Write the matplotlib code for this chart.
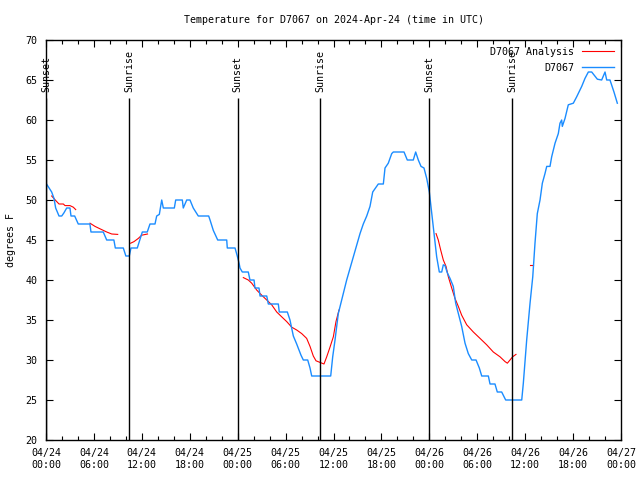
import matplotlib
matplotlib.use("Agg")
import matplotlib.pyplot as plt
import matplotlib.dates as mdates
import numpy as np
import pandas as pd

# hours since 2024-04-24 00:00 UTC, temperature in F
obs_hours = [0.0, 0.71, 1.0, 1.21, 1.63, 1.97, 2.25, 2.59, 3.0, 3.13, 3.59, 4.04,
             5.5, 5.63, 7.17, 7.6, 8.5, 8.68, 9.68, 10.0, 10.43, 10.64, 11.43,
             12.06, 12.68, 13.02, 13.65, 13.86, 14.19, 14.49, 14.69, 16.07, 16.24,
             17.07, 17.19, 17.62, 18.03, 18.44, 19.07, 20.37, 20.54, 20.95, 21.5,
             22.63, 22.70, 23.67, 23.95, 24.2, 24.29, 24.58, 25.33, 25.54, 26.05,
             26.17, 26.67, 26.8, 27.64, 27.84, 29.09, 29.21, 30.22, 30.55, 30.97,
             31.39, 31.93, 32.22, 32.77, 33.06, 33.27, 35.65, 35.9, 36.19, 36.6,
             37.03, 37.65, 38.48, 39.32, 39.73, 40.16, 40.57, 40.91, 41.61, 42.24,
             42.45, 42.86, 43.29, 43.49, 44.83, 45.24, 45.99, 46.29, 46.62, 46.96,
             47.33, 47.67, 48.0, 48.3, 48.59, 48.92, 49.25, 49.55, 49.75, 49.96,
             50.25, 50.59, 51.0, 51.3, 51.63, 52.05, 52.47, 52.88, 53.31, 53.85,
             54.26, 54.56, 55.39, 55.6, 56.22, 56.51, 57.06, 57.56, 59.57, 59.77,
             60.19, 60.61, 60.95, 61.23, 61.52, 61.86, 62.15, 62.48, 62.7, 63.11,
             63.32, 63.74, 64.15, 64.36, 64.57, 64.65, 64.99, 65.4, 66.03, 66.45,
             67.08, 67.49, 67.91, 68.33, 69.04, 69.58, 70.0, 70.21, 70.62, 71.12,
             71.54]
obs_temp = [52.1, 51.0, 50.2, 49.0, 48.0, 48.0, 48.4, 49.0, 49.0, 48.0, 48.0, 47.0,
            47.0, 46.0, 46.0, 45.0, 45.0, 44.0, 44.0, 43.0, 43.0, 44.0, 44.0,
            46.0, 46.0, 47.0, 47.0, 48.0, 48.2, 50.0, 49.0, 49.0, 50.0,
            50.0, 49.0, 50.0, 50.0, 49.0, 48.0, 48.0, 47.5, 46.2, 45.0,
            45.0, 44.0, 44.0, 43.0, 42.0, 41.5, 41.0, 41.0, 40.0, 40.0,
            39.0, 39.0, 38.0, 38.0, 37.0, 37.0, 36.0, 36.0, 35.0, 33.0,
            32.0, 30.6, 30.0, 30.0, 29.0, 28.0, 28.0, 30.4, 32.5, 35.8,
            37.5, 40.0, 42.9, 45.8, 47.0, 48.0, 49.2, 51.0, 52.0, 52.0,
            54.0, 54.6, 55.8, 56.0, 56.0, 55.0, 55.0, 56.0, 55.0, 54.2,
            54.0, 52.7, 51.0, 48.3, 45.8, 42.9, 41.0, 41.0, 41.9, 41.8,
            40.9, 40.2, 39.2, 37.1, 35.8, 34.2, 32.1, 30.8, 30.0, 30.0,
            29.0, 28.0, 28.0, 27.0, 27.0, 26.0, 26.0, 25.0, 25.0, 27.1,
            32.5, 37.1, 40.4, 44.6, 48.3, 50.0, 52.1, 53.3, 54.2, 54.2,
            55.4, 57.1, 58.3, 59.6, 60.0, 59.2, 60.2, 61.9, 62.1, 62.9,
            64.2, 65.2, 66.0, 66.0, 65.1, 65.0, 66.0, 65.0, 65.0, 63.5,
            62.1]

# analysis segments (gaps between them)
ana_hours = [
    [0.71, 1.25, 1.63, 2.17, 2.38, 3.0, 3.42, 3.72],
    [5.51, 6.14, 6.76, 7.6, 8.23, 8.98],
    [10.6, 11.02, 11.56, 11.98, 12.71],
    [24.71, 25.33, 25.76, 26.38, 27.01, 27.64, 28.26, 28.89, 29.51, 30.14,
     30.77, 31.39, 32.02, 32.64, 33.06, 33.47, 33.81, 34.31, 34.81, 35.15,
     35.56, 35.98, 36.31, 36.69],
    [48.84, 49.12, 49.42, 49.75, 50.09, 50.38, 50.8, 51.21, 51.63, 52.05,
     52.68, 53.51, 54.35, 55.18, 56.01, 56.85, 57.48, 57.77, 58.1, 58.43, 58.85],
    [60.61, 60.95],
]
ana_temp = [
    [50.5, 49.9, 49.5, 49.5, 49.3, 49.3, 49.1, 48.8],
    [47.1, 46.7, 46.4, 46.0, 45.75, 45.7],
    [44.6, 44.8, 45.2, 45.6, 45.75],
    [40.3, 40.0, 39.6, 38.75, 38.1, 37.5, 36.9, 36.0, 35.4, 34.8,
     34.1, 33.75, 33.3, 32.7, 31.7, 30.5, 29.9, 29.7, 29.5, 30.4,
     31.6, 32.9, 34.8, 36.25],
    [45.8, 45.0, 43.75, 42.5, 41.7, 40.4, 39.0, 37.7, 36.7, 35.6,
     34.4, 33.5, 32.7, 31.9, 31.0, 30.4, 29.8, 29.6, 30.0, 30.4, 30.7],
    [41.9, 41.9],
]

sun_hours = [0.0, 10.4, 24.02, 34.31, 47.98, 58.35]
sun_labels = ["Sunset", "Sunrise", "Sunset", "Sunrise", "Sunset", "Sunrise"]

base = pd.Timestamp("2024-04-24 00:00")
def to_time(h):
    return base + pd.to_timedelta(np.array(h), unit="h")

fs = 7.2
plt.rcParams['font.family'] = "DejaVu Sans Mono"
plt.rcParams['font.size'] = fs

fig = plt.figure(figsize=(6.4, 4.8), dpi=100)
ax = fig.add_axes([46/640, 40/480, 575/640, 400/480])

red = "#ff0000"
blue = "#1a8cff"

for i, (h, t) in enumerate(zip(ana_hours, ana_temp)):
    ax.plot(to_time(h), t, color=red, lw=0.8,
            label="D7067 Analysis" if i == 0 else None)
ax.plot(to_time(obs_hours), obs_temp, color=blue, lw=1.0, label="D7067")

for h, lab in zip(sun_hours, sun_labels):
    t = to_time([h])[0]
    ax.vlines(t, 20, 62.75, color="black", lw=1.0)
    ax.text(t, 63.5, lab, rotation=90, ha="center", va="bottom", fontsize=fs)

ax.set_xlim(base, base + pd.Timedelta(hours=72))
ax.set_ylim(20, 70)
ax.set_yticks(np.arange(20, 71, 5))
ax.xaxis.set_major_locator(mdates.HourLocator(byhour=[0, 6, 12, 18]))
ax.xaxis.set_minor_locator(mdates.HourLocator(byhour=range(0, 24, 2)))
ax.xaxis.set_major_formatter(mdates.DateFormatter("%m/%d\n%H:%M"))
ax.tick_params(which="both", direction="in", top=True, right=True, labelsize=fs)
ax.tick_params(which="major", length=5, width=0.8, pad=6)
ax.tick_params(which="minor", length=3, width=0.8)
for s in ax.spines.values():
    s.set_linewidth(1.0)

ax.set_ylabel("degrees F", fontsize=fs, labelpad=7)
ax.set_title("Temperature for D7067 on 2024-Apr-24 (time in UTC)", fontsize=fs, pad=12)

ax.legend(loc="upper right", frameon=False, markerfirst=False, fontsize=fs,
          handlelength=3.2, borderaxespad=0.5, borderpad=0.2, labelspacing=0.6)

fig.savefig("out.png", dpi=100)
